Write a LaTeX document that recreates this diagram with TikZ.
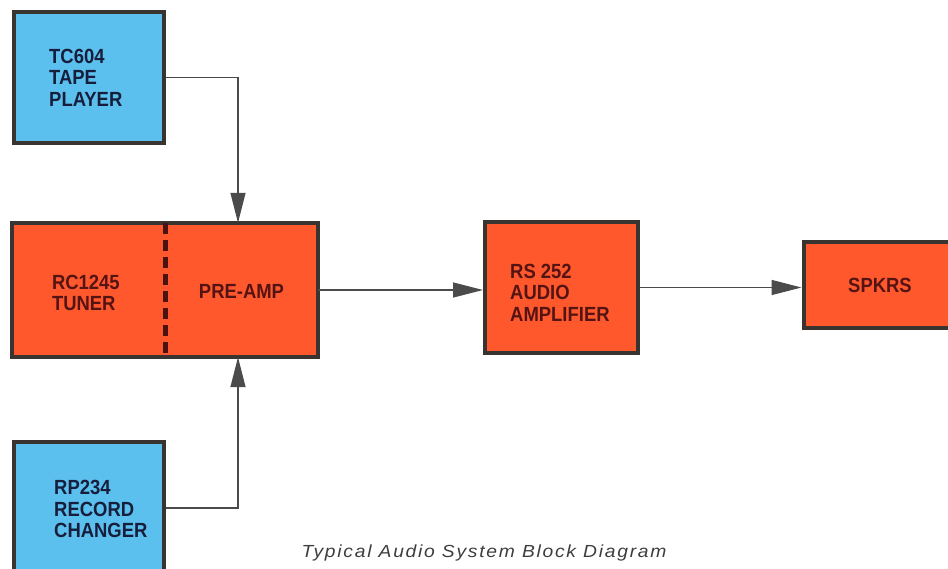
\documentclass[tikz,border=0pt]{standalone}
\usepackage{fontspec}
\setmainfont{Liberation Sans}
\newfontfamily\boxfont{Liberation Sans}[FakeStretch=0.9]
\newfontfamily\titlefont{Liberation Sans}[FakeStretch=1.1,LetterSpace=10]
\usetikzlibrary{arrows.meta}
\definecolor{cblue}{RGB}{92,192,238}
\definecolor{cred}{RGB}{255,88,45}
\definecolor{edgec}{RGB}{58,52,48}
\definecolor{tblue}{RGB}{22,30,60}
\definecolor{tred}{RGB}{85,20,20}
\definecolor{lgray}{RGB}{75,75,75}
\definecolor{tgray}{RGB}{60,62,60}
\definecolor{divc}{RGB}{75,18,18}
\tikzset{
  bluebox/.style={draw=edgec, line width=4pt, fill=cblue, inner sep=0pt},
  redbox/.style={draw=edgec, line width=4pt, fill=cred, inner sep=0pt},
  redpart/.style={fill=cred, inner sep=0pt},
  btext/.style={text=tblue, font=\boxfont\bfseries\fontsize{20.5}{21.5}\selectfont, align=left, inner sep=0pt, anchor=west},
  rtext/.style={text=tred, font=\boxfont\bfseries\fontsize{20.5}{21.5}\selectfont, align=left, inner sep=0pt},
  conn/.style={draw=lgray, line width=1.4pt, -{Triangle[length=30pt,width=15pt]}},
  divider/.style={draw=divc, line width=5pt, dash pattern=on 11pt off 6pt},
}
\begin{document}
\begin{tikzpicture}[x=1pt,y=-1pt]
\useasboundingbox (0,0) rectangle (948,569);
\clip (0,0) rectangle (948,569);
% tape player
\node[bluebox, minimum width=150, minimum height=131] (tape) at (89,77.5) {};
\node[btext] (tapetxt) at ([xshift=37pt]tape.west) {TC604\\TAPE\\PLAYER};
% record changer
\node[bluebox, minimum width=150, minimum height=132] (rec) at (89,508) {};
\node[btext] (rectxt) at ([xshift=42pt,yshift=-1pt]rec.west) {RP234\\RECORD\\CHANGER};
% tuner / pre-amp
\node[redpart, minimum width=153, minimum height=134] (tuner) at (88.5,290) {};
\node[redpart, minimum width=153, minimum height=134] (preamp) at (241.5,290) {};
\draw[draw=edgec, line width=4pt] (tuner.north west) rectangle (preamp.south east);
\draw[divider] (tuner.north east) -- (tuner.south east);
\node[rtext, anchor=west] (tunertxt) at ([xshift=40pt,yshift=-3pt]tuner.west) {RC1245\\TUNER};
\node[rtext] (pretxt) at ([yshift=-1pt]preamp.center) {PRE-AMP};
% amplifier
\node[redbox, minimum width=153, minimum height=131] (amp) at (561.5,287.5) {};
\node[rtext, anchor=west] (amptxt) at ([xshift=27pt,yshift=-5pt]amp.west) {RS 252\\AUDIO\\AMPLIFIER};
% speakers
\node[redbox, minimum width=153, minimum height=86] (spk) at (880,285) {};
\node[rtext] (spktxt) at (spk.center) {SPKRS};
% connectors
\draw[conn] (tape.east) -| ([xshift=-3.5pt]preamp.north);
\draw[conn] (rec.east) -| ([xshift=-3.5pt]preamp.south);
\draw[conn] (preamp.east) -- (amp.west |- preamp.east);
\draw[conn] (amp.east) -- (spk.west |- amp.east);
% title
\node[text=tgray, font=\titlefont\itshape\fontsize{17.5}{20}\selectfont, inner sep=0pt] (title) at (484,553) {Typical Audio System Block Diagram};
\end{tikzpicture}
\end{document}
